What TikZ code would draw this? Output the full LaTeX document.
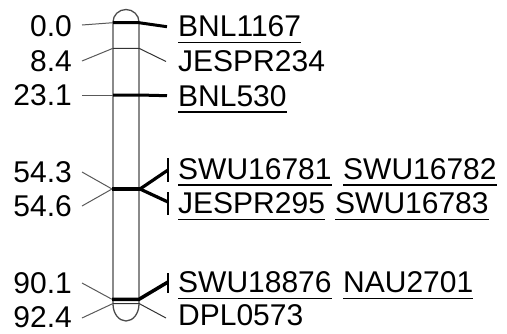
\documentclass[tikz,border=0pt]{standalone}
\usepackage{fontspec}
\setmainfont{Liberation Sans}
\begin{document}
\begin{tikzpicture}[x=1pt,y=-1pt,
  lab/.style={inner sep=0pt,anchor=base west,font=\fontsize{30}{32}\selectfont},
  num/.style={inner sep=0pt,anchor=base east,font=\fontsize{30}{32}\selectfont},
  chrom/.style={draw=black!70,line width=1.3pt},
  thinc/.style={draw=black!65,line width=1pt},
  thickc/.style={draw=black,line width=3.2pt},
  bar/.style={draw=black,line width=1.5pt},
  uline/.style={draw=black,line width=1.5pt}]
\useasboundingbox (0,0) rectangle (507,333);
% chromosome
\draw[chrom] (113,22) -- (113,304) arc[start angle=180,end angle=0,x radius=13,y radius=17]
  -- (139,22) arc[start angle=0,end angle=-180,x radius=13,y radius=12.5] -- cycle;
% marker lines inside the chromosome
\coordinate (a0) at (113,22.7); \coordinate (b0) at (139,22.7);
\coordinate (a1) at (113,48.3); \coordinate (b1) at (139,48.3);
\coordinate (a2) at (113,95);   \coordinate (b2) at (139,95);
\coordinate (a3) at (112,189);  \coordinate (b3) at (140,189);
\coordinate (a4) at (112,299.3);\coordinate (b4) at (139,299.3);
\coordinate (a5) at (113,303.5);\coordinate (b5) at (139,303.5);
% left numbers
\node[num] (n0) at (72,36) {0.0};
\node[num] (n1) at (72,71.5) {8.4};
\node[num] (n2) at (72,105.5) {23.1};
\node[num] (n3) at (72,182.5) {54.3};
\node[num] (n4) at (72,216.5) {54.6};
\node[num] (n5) at (72,293.5) {90.1};
\node[num] (n6) at (72,327.5) {92.4};
% left connector ends
\coordinate (l0) at (82,25);
\coordinate (l1) at (82,61);
\coordinate (l2) at (82,95);
\coordinate (l3) at (82,172);
\coordinate (l4) at (82,206);
\coordinate (l5) at (82,283);
\coordinate (l6) at (82,318);
\draw[thinc] (l0) -- (a0);
\draw[thinc] (l1) -- (a1);
\draw[thinc] (l2) -- (a2);
\draw[thinc] (l3) -- (a3);
\draw[thinc] (l4) -- (a3);
\draw[thinc] (l5) -- (a4);
\draw[thinc] (l6) -- (a5);
% right labels
\node[lab] (r0) at (178,36.5) {BNL1167};
\node[lab] (r1) at (178,71.5) {JESPR234};
\node[lab] (r2) at (178,106) {BNL530};
\node[lab] (r3) at (178,179) {SWU16781};
\node[lab] (r3b) at (343,179) {SWU16782};
\node[lab] (r4) at (178,213.5) {JESPR295};
\node[lab] (r4b) at (335,213.5) {SWU16783};
\node[lab] (r5) at (178,292.5) {SWU18876};
\node[lab] (r5b) at (343,292.5) {NAU2701};
\node[lab] (r6) at (178,325.5) {DPL0573};
% underlines
\foreach \n in {r0,r2,r3,r3b,r4,r4b,r5,r5b}
  \draw[uline] ([yshift=-6pt]\n.base west) -- ([yshift=-6pt]\n.base east);
% right connector ends
\coordinate (c0) at (167,26.7);
\coordinate (c1) at (166,61.5);
\coordinate (c2) at (167,95.7);
\coordinate (c3) at (168,170);
\coordinate (c4) at (168,202);
\coordinate (c5) at (168,282);
\coordinate (c6) at (166,318);
% bars
\draw[bar] (168,158) -- (168,182);
\draw[bar] (168,192) -- (168,215);
\draw[bar] (168,273) -- (168,293);
% marker lines and right connectors
\draw[thickc,line width=3pt] (a0) -- (b0) -- (c0);
\draw[thinc,draw=black!80] (a1) -- (b1) -- (c1);
\draw[thickc,line width=3pt] (a2) -- (b2) -- (c2);
\draw[thickc,line width=4pt] (a3) -- (b3);
\draw[thickc] (b3) -- (c3);
\draw[thickc] (b3) -- (c4);
\draw[thinc,draw=black!80] (a5) -- (b5) -- (c6);
\draw[thickc,line width=3.5pt] (a4) -- (b4) -- (c5);
\end{tikzpicture}
\end{document}
